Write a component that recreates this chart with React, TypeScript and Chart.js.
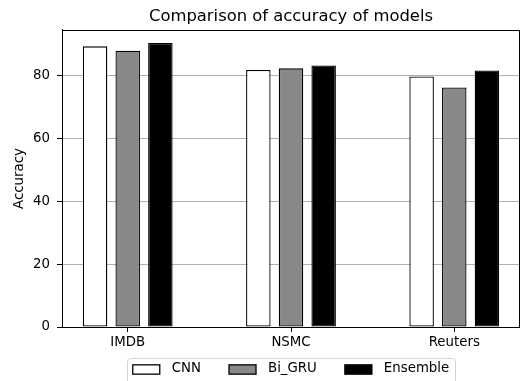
import React, { useEffect, useRef } from 'react';
import { Chart, registerables } from 'chart.js';

Chart.register(...registerables);

const categories = ['IMDB', 'NSMC', 'Reuters'];
const seriesNames = ['CNN', 'Bi_GRU', 'Ensemble'];
const cnnValues = [89.2, 81.7, 79.6];
const biGruValues = [87.8, 82.2, 76.1];
const ensembleValues = [90.3, 83.1, 81.5];
const yTicks = [0, 20, 40, 60, 80];
const chartTitle = 'Comparison of accuracy of models';
const yTitle = 'Accuracy';

const FONT = 'DejaVu Sans';
const LEGEND_FONT_SIZE = 13.33;

// axes box + legend drawn below the plot, centred on the plot area
const framePlugin = {
  id: 'frame',
  afterDraw(chart: any) {
    const ctx = chart.ctx;
    const a = chart.chartArea;
    ctx.save();
    ctx.strokeStyle = '#000';
    ctx.lineWidth = 1;
    const l = Math.round(a.left) + 0.5;
    const t = Math.round(a.top) + 0.5;
    const r = Math.round(a.right) - 0.5;
    const b = Math.round(a.bottom) + 0.5;
    ctx.strokeRect(l, t, r - l, b - t);

    // legend
    const datasets = chart.data.datasets;
    ctx.font = `${LEGEND_FONT_SIZE}px "${FONT}"`;
    const boxW = 27;
    const boxH = 9.3;
    const gapText = 12;
    const gapItem = 28;
    const widths = datasets.map((d: any) => ctx.measureText(d.label).width);
    let total = 0;
    widths.forEach((w: number, i: number) => {
      total += boxW + gapText + w + (i < widths.length - 1 ? gapItem : 0);
    });
    const cx = (a.left + a.right) / 2;
    const start = cx - total / 2;
    const cy = a.bottom + 41.5;

    // frame
    const x0 = Math.round(start - 6) + 0.5;
    const x1 = Math.round(start + total + 6) + 0.5;
    const y0 = Math.round(cy - 10.5) + 0.5;
    const y1 = chart.height + 10;
    const rad = 3;
    ctx.strokeStyle = '#d4d4d4';
    ctx.lineWidth = 1;
    ctx.beginPath();
    ctx.moveTo(x0 + rad, y0);
    ctx.lineTo(x1 - rad, y0);
    ctx.quadraticCurveTo(x1, y0, x1, y0 + rad);
    ctx.lineTo(x1, y1);
    ctx.lineTo(x0, y1);
    ctx.lineTo(x0, y0 + rad);
    ctx.quadraticCurveTo(x0, y0, x0 + rad, y0);
    ctx.stroke();

    let x = start;
    datasets.forEach((d: any, i: number) => {
      ctx.fillStyle = d.backgroundColor;
      ctx.fillRect(x, cy - boxH / 2 + 1, boxW, boxH);
      ctx.strokeStyle = d.borderColor;
      ctx.lineWidth = 1.3;
      ctx.strokeRect(x, cy - boxH / 2 + 1, boxW, boxH);
      ctx.fillStyle = '#000';
      ctx.textAlign = 'left';
      ctx.textBaseline = 'middle';
      ctx.fillText(d.label, x + boxW + gapText, cy);
      x += boxW + gapText + widths[i] + gapItem;
    });
    ctx.restore();
  },
};

function toPoints(values: number[]) {
  return values.map((v, i) => ({ x: i, y: v }));
}

export default function App() {
  const ref = useRef<HTMLCanvasElement | null>(null);

  useEffect(() => {
    if (!ref.current) return;
    const fills = ['#ffffff', '#888888', '#000000'];
    const series = [cnnValues, biGruValues, ensembleValues];
    const chart = new Chart(ref.current, {
      type: 'bar',
      data: {
        datasets: series.map((vals, i) => ({
          label: seriesNames[i],
          data: toPoints(vals),
          backgroundColor: fills[i],
          borderColor: '#000000',
          borderWidth: 1.3,
          borderSkipped: false,
          barPercentage: 0.75,
          categoryPercentage: 0.6,
        })),
      },
      options: {
        responsive: false,
        animation: false,
        events: [],
        layout: { padding: { left: 0, right: 0, top: 0, bottom: 29 } },
        plugins: {
          tooltip: { enabled: false },
          title: {
            display: true,
            text: chartTitle,
            fullSize: false,
            color: '#000',
            font: { family: FONT, size: 16.4, weight: 'normal' },
            padding: { top: 7, bottom: 3.3 },
          },
          legend: { display: false },
        },
        scales: {
          x: {
            type: 'linear',
            min: -0.4025,
            max: 2.4025,
            offset: false,
            afterBuildTicks: (s: any) => {
              s.ticks = categories.map((_, i) => ({ value: i }));
            },
            afterFit: (s: any) => {
              s.height = 25;
            },
            ticks: {
              autoSkip: false,
              maxRotation: 0,
              color: '#000',
              font: { family: FONT, size: 13.33 },
              padding: 3,
              callback: (v: any) => categories[Math.round(Number(v))] ?? '',
            },
            grid: {
              display: true,
              offset: false,
              drawOnChartArea: false,
              drawTicks: true,
              tickLength: 5,
              tickColor: '#000',
            },
            border: { display: true, color: '#000', width: 1 },
          },
          y: {
            type: 'linear',
            min: 0,
            max: 94.4,
            z: 1,
            afterBuildTicks: (s: any) => {
              s.ticks = yTicks.map((v) => ({ value: v }));
            },
            afterFit: (s: any) => {
              s.width = 62;
            },
            ticks: {
              color: '#000',
              font: { family: FONT, size: 13.33 },
              padding: 7,
            },
            grid: {
              display: true,
              color: '#b0b0b0',
              lineWidth: 1,
              drawTicks: true,
              tickLength: 5,
              tickColor: '#000',
            },
            border: { display: true, color: '#000', width: 1 },
            title: {
              display: true,
              text: yTitle,
              color: '#000',
              font: { family: FONT, size: 13.33 },
              padding: { top: 12, bottom: 0 },
            },
          },
        },
      },
      plugins: [framePlugin],
    } as any);
    return () => chart.destroy();
  }, []);

  return (
    <div
      style={{
        position: 'fixed',
        left: 0,
        top: 0,
        width: 520,
        height: 381,
        overflow: 'hidden',
        background: '#ffffff',
      }}
    >
      <canvas ref={ref} width={520} height={381} style={{ display: 'block' }} />
    </div>
  );
}
